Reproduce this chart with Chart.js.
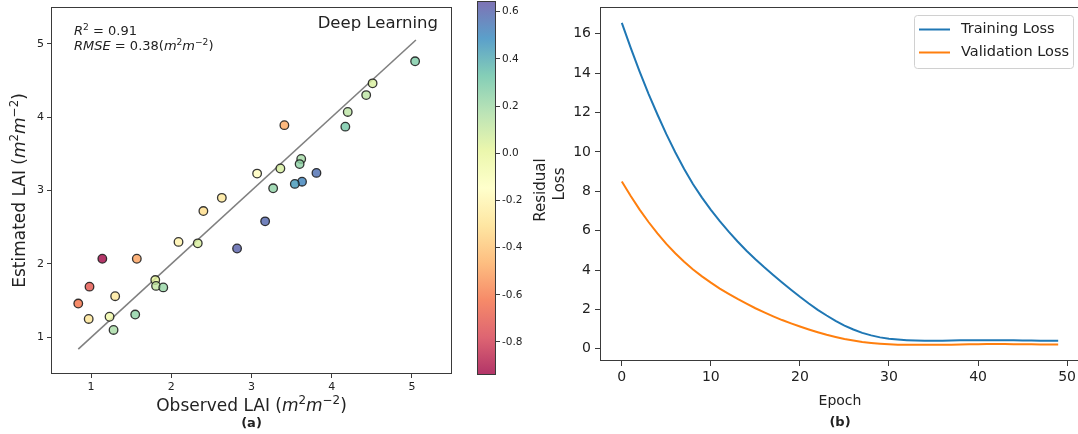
<!DOCTYPE html>
<html>
<head>
<meta charset="utf-8">
<script src="https://cdn.jsdelivr.net/npm/chart.js@4.4.1/dist/chart.umd.min.js"></script>
<style>
  html, body { margin: 0; padding: 0; background: #fff; overflow: hidden; }
  #wrap { position: relative; width: 1078px; height: 434px; }
  canvas { position: absolute; top: 0; }
</style>
</head>
<body>
<div id="wrap">
  <canvas id="scatter" width="470" height="434" style="left:0"></canvas>
  <canvas id="cbar" width="90" height="434" style="left:470px"></canvas>
  <canvas id="loss" width="540" height="434" style="left:540px"></canvas>
</div>
<script>
// ---- panel (a): observed vs estimated LAI ----
const observed  = [5.04, 4.51, 4.43, 4.20, 4.17, 3.41, 3.62, 3.60, 3.81, 3.63, 3.54, 3.07, 3.36, 3.27, 2.63, 2.40,
                   3.17, 2.82, 2.09, 2.33, 1.14, 1.57, 1.80, 1.81, 1.90, 0.98, 1.30, 0.84, 1.55, 0.97, 1.23, 1.28];
const estimated = [4.76, 4.46, 4.30, 4.07, 3.87, 3.89, 3.43, 3.36, 3.24, 3.12, 3.09, 3.23, 3.30, 3.03, 2.90, 2.72,
                   2.58, 2.21, 2.30, 2.28, 2.07, 2.07, 1.78, 1.70, 1.68, 1.69, 1.56, 1.46, 1.31, 1.25, 1.28, 1.10];
const fitX = [0.84, 5.05];
const fitY = [0.84, 5.05];
const lai_ticks = [1, 2, 3, 4, 5];

// colour bar
const cbMin = -0.94;
const cbMax = 0.645;
const cbTicks = [-0.8, -0.6, -0.4, -0.2, 0.0, 0.2, 0.4, 0.6];

// ---- panel (b): loss curves ----
const epochs = [0, 1, 2, 3, 4, 5, 6, 7, 8, 9, 10, 11, 12, 13, 14, 15, 16, 17, 18, 19, 20, 21, 22, 23, 24,
                25, 26, 27, 28, 29, 30, 31, 32, 33, 34, 35, 36, 37, 38, 39, 40, 41, 42, 43, 44, 45, 46, 47, 48, 49];
const trainLoss = [16.55, 15.28, 14.08, 12.95, 11.90, 10.90, 9.98, 9.13, 8.36, 7.68,
                   7.06, 6.48, 5.95, 5.45, 4.98, 4.55, 4.14, 3.75, 3.37, 3.00,
                   2.64, 2.30, 1.98, 1.69, 1.42, 1.18, 0.98, 0.81, 0.68, 0.58,
                   0.51, 0.47, 0.44, 0.42, 0.41, 0.41, 0.41, 0.42, 0.43, 0.43,
                   0.44, 0.44, 0.44, 0.43, 0.43, 0.42, 0.42, 0.41, 0.41, 0.41];
const valLoss = [8.50, 7.76, 7.07, 6.44, 5.86, 5.33, 4.85, 4.42, 4.03, 3.68,
                 3.36, 3.06, 2.79, 2.53, 2.29, 2.06, 1.85, 1.65, 1.46, 1.29,
                 1.13, 0.98, 0.84, 0.71, 0.60, 0.50, 0.42, 0.35, 0.30, 0.26,
                 0.23, 0.21, 0.20, 0.20, 0.20, 0.20, 0.21, 0.21, 0.22, 0.23,
                 0.23, 0.24, 0.24, 0.24, 0.23, 0.23, 0.23, 0.22, 0.22, 0.22];
const epochTicks = [0, 10, 20, 30, 40, 50];
const lossTicks = [0, 2, 4, 6, 8, 10, 12, 14, 16];

const FONT = '"DejaVu Sans", sans-serif';
const INK = '#222';
const SPINE = '#3a3a3a';

// matplotlib "Spectral"
const spectralStops = [
  [158, 1, 66], [213, 62, 79], [244, 109, 67], [253, 174, 97], [254, 224, 139], [255, 255, 191],
  [230, 245, 152], [171, 221, 164], [102, 194, 165], [50, 136, 189], [94, 79, 162]
];
function spectral(t, alpha) {
  t = Math.max(0, Math.min(1, t));
  const p = t * (spectralStops.length - 1);
  const i = Math.min(Math.floor(p), spectralStops.length - 2);
  const f = p - i;
  const a = spectralStops[i], b = spectralStops[i + 1];
  const c = a.map((v, k) => Math.round(v + (b[k] - v) * f));
  return `rgba(${c[0]},${c[1]},${c[2]},${alpha})`;
}
const residual = observed.map((o, i) => o - estimated[i]);
const pointColors = residual.map(r => spectral((r - cbMin) / (cbMax - cbMin), 0.8));

// text with italic / superscript pieces (mathtext look-alike)
function drawRich(ctx, segs, x, y, size, align, rot) {
  const fontOf = s => `${s.it ? 'italic ' : ''}${s.b ? 'bold ' : ''}${s.sup ? size * 0.7 : size}px ${FONT}`;
  let w = 0;
  segs.forEach(s => { ctx.font = fontOf(s); s.w = ctx.measureText(s.t).width; w += s.w; });
  ctx.save();
  ctx.translate(x, y);
  if (rot) ctx.rotate(rot);
  let cx = align === 'center' ? -w / 2 : align === 'right' ? -w : 0;
  ctx.textBaseline = 'middle';
  ctx.textAlign = 'left';
  ctx.fillStyle = INK;
  segs.forEach(s => {
    ctx.font = fontOf(s);
    ctx.fillText(s.t, cx, s.sup ? -size * 0.36 : 0);
    cx += s.w;
  });
  ctx.restore();
}

const frame = {
  id: 'frame',
  afterDraw(chart) {
    const { ctx, chartArea: a } = chart;
    ctx.save();
    ctx.strokeStyle = SPINE;
    ctx.lineWidth = 1;
    ctx.strokeRect(Math.round(a.left) + 0.5, Math.round(a.top) + 0.5,
                   Math.round(a.right - a.left) - 1, Math.round(a.bottom - a.top) - 1);
    ctx.restore();
  }
};

function axis(opts) {
  return {
    type: 'linear',
    min: opts.min, max: opts.max,
    position: opts.position,
    afterBuildTicks: s => { s.ticks = opts.ticks.map(v => ({ value: v })); },
    afterFit: s => {
      if (opts.width != null) s.width = opts.width;
      if (opts.height != null) s.height = opts.height;
      // let layout.padding alone decide the plot box
      s.paddingTop = s.paddingBottom = s.paddingLeft = s.paddingRight = 0;
    },
    grid: { drawOnChartArea: false, color: SPINE, tickLength: opts.tickLength || 4, tickWidth: 1 },
    border: { display: false },
    ticks: {
      color: INK, padding: opts.pad || 3, font: { family: FONT, size: opts.fontSize },
      maxRotation: 0,
      callback: opts.fmt || (v => String(v))
    },
    title: opts.title || { display: false }
  };
}

// ---------- panel (a) ----------
const mUnit = [{ t: 'm', it: true }, { t: '2', sup: true }, { t: 'm', it: true }, { t: '\u22122', sup: true }];
const annotA = {
  id: 'annotA',
  afterDraw(chart) {
    const { ctx, chartArea: a } = chart;
    drawRich(ctx, [{ t: 'R', it: true }, { t: '2', sup: true }, { t: ' = 0.91' }], 74, 32, 13, 'left');
    drawRich(ctx, [{ t: 'RMSE', it: true }, { t: ' = 0.38(' }].concat(mUnit, [{ t: ')' }]), 74, 47, 13, 'left');
    drawRich(ctx, [{ t: 'Deep Learning' }], 438, 24, 16.5, 'right');
    const cx = (a.left + a.right) / 2;
    drawRich(ctx, [{ t: 'Observed LAI (' }].concat(mUnit, [{ t: ')' }]), cx, 407, 17, 'center');
    drawRich(ctx, [{ t: '(a)', b: true }], cx, 424, 13, 'center');
    drawRich(ctx, [{ t: 'Estimated LAI (' }].concat(mUnit, [{ t: ')' }]), 21, (a.top + a.bottom) / 2, 17, 'center', -Math.PI / 2);
  }
};

new Chart(document.getElementById('scatter'), {
  type: 'scatter',
  data: {
    datasets: [
      {
        data: observed.map((x, i) => ({ x, y: estimated[i] })),
        pointBackgroundColor: pointColors,
        pointBorderColor: 'rgba(20,20,20,0.85)',
        pointBorderWidth: 1.3,
        pointRadius: 4.3,
        order: 1
      },
      {
        data: fitX.map((x, i) => ({ x, y: fitY[i] })),
        showLine: true,
        borderColor: '#808080',
        borderWidth: 1.6,
        pointRadius: 0,
        order: 2
      }
    ]
  },
  options: {
    responsive: false,
    animation: false,
    events: [],
    layout: { padding: { top: 7, right: 18, left: 0, bottom: 0 } },
    plugins: { legend: { display: false }, tooltip: { enabled: false } },
    scales: {
      x: axis({ min: 0.5, max: 5.5, ticks: lai_ticks, height: 60, fontSize: 11 }),
      y: axis({ min: 0.5, max: 5.5, ticks: lai_ticks, width: 51, fontSize: 11 })
    }
  },
  plugins: [frame, annotA]
});

// ---------- colour bar ----------
const cbarPaint = {
  id: 'cbarPaint',
  beforeDatasetsDraw(chart) {
    const { ctx, chartArea: a } = chart;
    const g = ctx.createLinearGradient(0, a.bottom, 0, a.top);
    spectralStops.forEach((c, i) => g.addColorStop(i / (spectralStops.length - 1), spectral(i / (spectralStops.length - 1), 0.8)));
    ctx.save();
    ctx.fillStyle = g;
    ctx.fillRect(a.left, a.top, a.right - a.left, a.bottom - a.top);
    ctx.restore();
  },
  afterDraw(chart) {
    const { ctx, chartArea: a } = chart;
    drawRich(ctx, [{ t: 'Residual' }], 71, 190, 15, 'center', -Math.PI / 2);
  }
};

new Chart(document.getElementById('cbar'), {
  type: 'scatter',
  data: { datasets: [] },
  options: {
    responsive: false,
    animation: false,
    events: [],
    layout: { padding: { top: 1, left: 7, right: 0, bottom: 59 } },
    plugins: { legend: { display: false }, tooltip: { enabled: false } },
    scales: {
      x: { display: false, min: 0, max: 1 },
      y: axis({ min: cbMin, max: cbMax, ticks: cbTicks, width: 64, fontSize: 10.5, pad: 2, position: 'right',
                fmt: v => v.toFixed(1) })
    }
  },
  plugins: [cbarPaint, frame]
});

// ---------- panel (b) ----------
const legendB = {
  id: 'legendB',
  afterDraw(chart) {
    const { ctx, chartArea: a } = chart;
    ctx.save();
    ctx.beginPath();
    ctx.roundRect(374.5, 15.5, 159, 53, 3);
    ctx.fillStyle = 'rgba(255,255,255,0.8)';
    ctx.fill();
    ctx.strokeStyle = '#d0d0d0';
    ctx.lineWidth = 1;
    ctx.stroke();
    chart.data.datasets.forEach((ds, i) => {
      const y = 29.5 + i * 23;
      ctx.beginPath();
      ctx.moveTo(379, y);
      ctx.lineTo(410, y);
      ctx.strokeStyle = ds.borderColor;
      ctx.lineWidth = 2;
      ctx.stroke();
      ctx.fillStyle = INK;
      ctx.font = `14.5px ${FONT}`;
      ctx.textBaseline = 'middle';
      ctx.fillText(ds.label, 421, y);
    });
    drawRich(ctx, [{ t: '(b)', b: true }], (a.left + a.right) / 2, 423, 13, 'center');
    ctx.restore();
  }
};

new Chart(document.getElementById('loss'), {
  type: 'scatter',
  data: {
    datasets: [
      {
        label: 'Training Loss',
        data: epochs.map((e, i) => ({ x: e, y: trainLoss[i] })),
        showLine: true, borderColor: '#1f77b4', borderWidth: 2, pointRadius: 0, tension: 0
      },
      {
        label: 'Validation Loss',
        data: epochs.map((e, i) => ({ x: e, y: valLoss[i] })),
        showLine: true, borderColor: '#ff7f0e', borderWidth: 2, pointRadius: 0, tension: 0
      }
    ]
  },
  options: {
    responsive: false,
    animation: false,
    events: [],
    layout: { padding: { top: 7, right: 0, left: 0, bottom: 0 } },
    plugins: { legend: { display: false }, tooltip: { enabled: false } },
    scales: {
      x: axis({ min: -2.45, max: 51.45, ticks: epochTicks, height: 73, fontSize: 14, tickLength: 5, pad: 3,
                title: { display: true, text: 'Epoch', color: INK, font: { family: FONT, size: 14 }, padding: { top: 0, bottom: 24 } } }),
      y: axis({ min: -0.62, max: 17.36, ticks: lossTicks, width: 60, fontSize: 14, tickLength: 5, pad: 4,
                title: { display: true, text: 'Loss', color: INK, font: { family: FONT, size: 15 }, padding: { top: 11, bottom: 0 } } })
    }
  },
  plugins: [frame, legendB]
});
</script>
</body>
</html>
